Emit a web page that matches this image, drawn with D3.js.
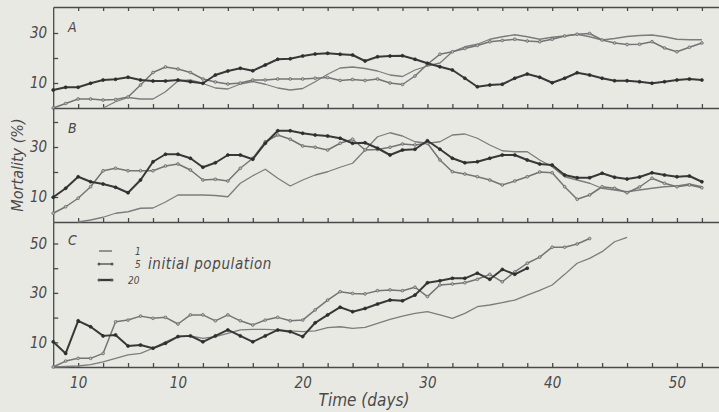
<!DOCTYPE html>
<html>
<head>
<meta charset="utf-8">
<script src="https://cdn.jsdelivr.net/npm/d3@7"></script>
<style>
  body { margin: 0; background: #e9e9e4; }
  svg { display: block; }
  text { font-family: "DejaVu Sans Condensed", "DejaVu Sans", sans-serif; font-style: italic; fill: #4a4a4a; }
  .axis path, .axis line { stroke: #4a4a4a; stroke-width: 1.3; }
</style>
</head>
<body>
<script>
var width = 719;
var height = 412;

// days 0..52
var days = [0,1,2,3,4,5,6,7,8,9,10,11,12,13,14,15,16,17,18,19,20,21,22,23,24,25,26,
  27,28,29,30,31,32,33,34,35,36,37,38,39,40,41,42,43,44,45,46,47,48,49,50,51,52];

// mortality (%) by initial population, panel A
var a1 = [null,null,null,null,0,2.5,4.2,3.6,3.6,6.5,10.8,11.2,9.8,8.0,7.6,9.6,10.6,9.5,8.0,7.2,7.8,
  10.5,13.5,16.0,16.4,15.8,14.8,13.2,12.6,15.2,16.8,18.0,22.5,24.5,25.5,27.5,28.5,29.3,28.5,27.5,
  28.3,28.8,29.5,28.5,27.2,27.8,28.6,29.0,29.2,28.5,27.5,27.3,27.3];
var a5 = [0,1.8,3.6,3.6,3.2,3.4,4.4,9.2,14.2,16.4,15.6,14.2,11.6,10.4,9.6,10.0,11.2,11.2,11.6,11.6,
  11.6,11.9,12.2,11.0,11.4,11.0,11.6,10.0,9.4,12.8,17.5,21.5,22.5,23.8,25.0,26.5,27.0,27.5,26.8,
  26.5,27.5,28.8,29.5,29.8,27.2,26.0,25.4,25.5,26.5,24.0,22.5,24.3,26.0];
var a20 = [7.2,8.3,8.3,9.9,11.2,11.5,12.3,11.2,10.8,10.8,11.2,10.5,9.9,13.2,14.8,15.9,14.9,17.2,
  19.5,19.7,20.8,21.6,21.9,21.5,21.2,18.8,20.5,20.8,20.9,19.5,17.9,16.5,15.2,11.9,8.5,9.2,9.5,
  11.9,13.6,12.3,10.1,11.9,14.1,13.2,11.9,10.9,10.9,10.5,9.9,10.5,11.2,11.6,11.2];

// panel B
var b1 = [null,null,0,0.8,1.9,3.5,4.1,5.5,5.6,8.0,10.8,10.8,10.8,10.6,10.1,15.5,18.5,21.1,17.5,
  14.4,16.8,18.8,20.1,21.9,23.5,28.8,34.1,35.7,34.4,32.1,31.5,32.1,34.8,35.2,33.5,30.8,28.5,28.1,
  28.1,24.8,22.1,18.1,16.8,15.5,13.5,12.8,12.1,12.8,13.5,14.1,14.4,15.2,14.1];
var b5 = [3.5,6.1,9.5,14.1,20.5,21.5,20.5,20.5,20.5,22.4,23.2,20.8,16.8,17.1,16.4,21.5,25.5,32.1,
  34.8,33.1,30.4,29.9,28.8,31.5,33.1,28.8,29.0,29.9,31.2,30.8,31.5,24.8,20.1,19.2,18.1,16.8,14.8,
  16.4,18.1,20.0,19.7,14.1,9.1,10.8,14.1,13.5,11.7,14.0,17.5,15.5,14.1,14.8,13.7];
var b20 = [9.9,13.5,18.1,16.1,15.2,13.9,11.7,16.8,24.1,27.1,27.1,25.5,21.9,23.7,26.8,26.8,25.1,
  31.5,36.5,36.5,35.5,34.8,34.4,33.5,31.5,31.7,29.5,26.8,28.8,29.1,32.5,29.1,25.5,23.7,24.1,25.5,
  26.8,26.8,24.8,23.2,22.8,18.8,17.7,17.7,19.5,17.9,17.2,18.0,19.7,18.8,18.1,18.4,16.1];

// panel C
var c1 = [0,0.2,0.4,1.0,2.1,3.5,4.9,5.5,7.6,10.2,12.3,12.6,11.6,12.3,13.6,15.0,15.2,15.2,15.0,
  14.6,14.3,14.6,15.9,16.3,15.6,16.0,17.7,19.3,20.6,21.7,22.4,21.1,19.7,21.7,24.4,25.1,26.1,27.1,
  29.1,31.0,33.2,37.5,42.0,44.0,46.7,50.7,52.5];
var c5 = [0,2.4,3.5,3.5,5.5,18.3,19.0,20.6,19.7,20.1,17.4,21.1,21.1,18.7,21.1,18.7,17.0,19.0,20.1,
  18.7,19.0,23.1,27.1,30.5,29.8,29.6,30.9,31.2,30.9,32.3,28.5,33.2,33.6,34.1,35.5,37.5,34.5,38.5,
  42,44.5,48.5,48.5,49.8,52];
var c20 = [10.2,5.5,18.7,16.3,12.6,13.0,8.5,8.9,7.6,9.6,12.3,12.6,10.2,12.6,15.0,12.6,10.2,12.6,
  15.0,14.3,12.3,17.9,21.1,24.2,22.4,23.7,25.5,27.1,26.8,29.1,34.1,34.9,35.9,35.9,38.0,35.5,39.5,
  37.5,40.0];

var panelNames = ['A', 'B', 'C'];
var panelSeries = [[a1, a5, a20], [b1, b5, b20], [c1, c5, c20]];
var panelMax = [40.4, 45.6, 58.7];
var panelTicks = [[10, 20, 30], [10, 20, 30, 40], [10, 20, 30, 40, 50]];
var labelledY = [10, 30, 50];

var xTicks = [2,4,6,8,10,12,14,16,18,20,22,24,26,28,30,32,34,36,38,40,42,44,46,48,50,52];
var xLabelDays = [2, 10, 20, 30, 40, 50];
var xLabels = ['10', '10', '20', '30', '40', '50'];

var legendKeys = ['1', '5', '20'];

// layout
var left = 53.2;
var bounds = [[7, 108], [108, 222], [222, 367]];

var x = d3.scaleLinear().domain([0, 54]).range([left, left + 54 * 12.475]);

var svg = d3.select('body').append('svg')
  .attr('width', width)
  .attr('height', height);

// series styles: 1 plain, 5 light with open dots, 20 heavy with dots
var styles = [
  { stroke: '#7c7c7c', width: 1.3, dots: false },
  { stroke: '#747474', width: 1.5, dots: true, dotFill: '#b8b8b4', dotStroke: '#606060', r: 1.4 },
  { stroke: '#383838', width: 2.0, dots: true, dotFill: '#2e2e2e', dotStroke: '#2e2e2e', r: 1.5 }
];

bounds.forEach(function(b, p) {
  var y = d3.scaleLinear().domain([0, panelMax[p]]).range([b[1], b[0]]);
  var g = svg.append('g');

  // bottom border with inward ticks
  g.append('g')
    .attr('class', 'axis')
    .attr('transform', 'translate(0,' + b[1] + ')')
    .call(d3.axisBottom(x).tickValues(xTicks).tickSizeInner(-4).tickSizeOuter(0).tickFormat(''));

  if (p == 0) {
    g.append('g')
      .attr('class', 'axis')
      .attr('transform', 'translate(0,' + b[0] + ')')
      .call(d3.axisTop(x).tickValues(xTicks).tickSizeInner(-4).tickSizeOuter(0).tickFormat(''));
  }

  // left axis
  g.append('g')
    .attr('class', 'axis')
    .attr('transform', 'translate(' + left + ',0)')
    .call(d3.axisLeft(y).tickValues(panelTicks[p]).tickSizeInner(-5).tickSizeOuter(0).tickPadding(6)
      .tickFormat(function(d) { return labelledY.indexOf(d) >= 0 ? d : ''; }))
    .call(function(a) {
      a.selectAll('text').style('font-size', '15px').attr('fill', '#4a4a4a');
    });

  g.append('text')
    .attr('x', 68)
    .attr('y', b[0] + (p == 2 ? 23 : 25))
    .style('font-size', '14px')
    .text(panelNames[p]);

  panelSeries[p].forEach(function(vals, s) {
    var st = styles[s];
    var pts = vals.map(function(v, i) { return { d: days[i], v: v }; })
      .filter(function(e) { return e.v != null; });

    var line = d3.line()
      .x(function(e) { return x(e.d); })
      .y(function(e) { return y(e.v); });

    g.append('path')
      .datum(pts)
      .attr('d', line)
      .attr('fill', 'none')
      .attr('stroke', st.stroke)
      .attr('stroke-width', st.width)
      .attr('stroke-linejoin', 'round');

    if (st.dots) {
      g.selectAll(null)
        .data(pts)
        .enter()
        .append('circle')
        .attr('cx', function(e) { return x(e.d); })
        .attr('cy', function(e) { return y(e.v); })
        .attr('r', st.r)
        .attr('fill', st.dotFill)
        .attr('stroke', st.dotStroke)
        .attr('stroke-width', 0.7);
    }
  });
});

// x labels under panel C
svg.append('g')
  .attr('class', 'axis')
  .attr('transform', 'translate(0,' + bounds[2][1] + ')')
  .call(d3.axisBottom(x).tickValues(xLabelDays).tickSize(0).tickPadding(10)
    .tickFormat(function(d, i) { return xLabels[i]; }))
  .call(function(a) {
    a.select('.domain').remove();
    a.selectAll('text').style('font-size', '15px').attr('fill', '#4a4a4a');
  });

svg.append('text')
  .attr('x', 364)
  .attr('y', 406)
  .attr('text-anchor', 'middle')
  .style('font-size', '17px')
  .text('Time (days)');

svg.append('text')
  .attr('transform', 'translate(23,165) rotate(-90)')
  .attr('text-anchor', 'middle')
  .style('font-size', '16px')
  .text('Mortality (%)');

// legend
var legendY = [251, 264, 280];
var legend = svg.append('g')
  .selectAll('g')
  .data(legendKeys)
  .enter()
  .append('g')
  .attr('transform', function(d, i) { return 'translate(99,' + legendY[i] + ')'; });

legend.append('line')
  .attr('x1', 0)
  .attr('x2', 13)
  .attr('stroke', function(d, i) { return styles[i].stroke; })
  .attr('stroke-width', function(d, i) { return styles[i].width + 0.3; });

legend.filter(function(d, i) { return i > 0; })
  .selectAll('circle')
  .data([0, 13])
  .enter()
  .append('circle')
  .attr('cx', function(d) { return d; })
  .attr('r', 1.5)
  .attr('fill', '#555');

legend.append('text')
  .attr('x', function(d, i) { return i == 2 ? 29 : 36; })
  .attr('y', 4)
  .style('font-size', '10px')
  .text(function(d) { return d; });

svg.append('text')
  .attr('x', 148)
  .attr('y', 269)
  .style('font-size', '15px')
  .style('letter-spacing', '0.6px')
  .text('initial population');
</script>
</body>
</html>
